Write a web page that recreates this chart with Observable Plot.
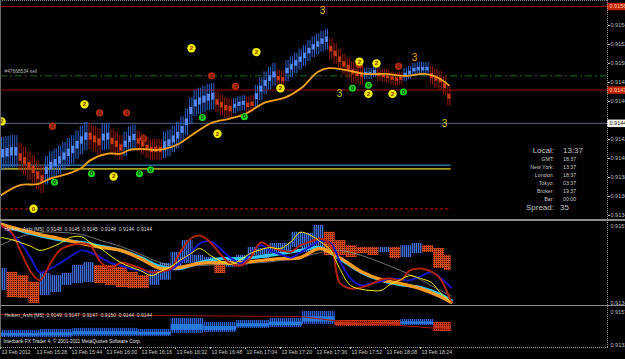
<!DOCTYPE html>
<html><head><meta charset="utf-8">
<script src="https://cdn.jsdelivr.net/npm/d3@7"></script>
<script src="https://cdn.jsdelivr.net/npm/@observablehq/plot@0.6"></script>
<style>
html,body{margin:0;padding:0;background:#000;}
#wrap{position:relative;width:625px;height:359px;background:#000;overflow:hidden;font-family:"Liberation Sans",Arial,sans-serif;}
#wrap svg{position:absolute;left:0;display:block;}
.t{position:absolute;color:#c4c4c4;white-space:nowrap;line-height:1;}
.ln{position:absolute;}
</style></head><body><div id="wrap"></div>
<script>
// ---------- time axis (minutes after 15:00) ----------
const xDomain = [12, 289.5];
const lastTime = 218;
const timeTicks = [12,28,44,60,76,92,108,124,140,156,172,188,204];
const timeLabels = ["13 Feb 2012","13 Feb 15:28","13 Feb 15:44","13 Feb 16:00","13 Feb 16:16","13 Feb 16:32","13 Feb 16:48","13 Feb 17:04","13 Feb 17:20","13 Feb 17:36","13 Feb 17:52","13 Feb 18:08","13 Feb 18:24"];

// ---------- main window: Heiken Ashi M1 (2-minute sampling) ----------
const haTime = [13,15,17,19,21,23,25,27,29,31,33,35,37,39,41,43,45,47,49,51,53,55,57,59,61,63,65,67,69,71,73,75,77,79,81,83,85,87,89,91,93,95,97,99,101,103,105,107,109,111,113,115,117,119,121,123,125,127,129,131,133,135,137,139,141,143,145,147,149,151,153,155,157,159,161,163,165,167,169,171,173,175,177,179,181,183,185,187,189,191,193,195,197,199,201,203,205,207,209,211,213,215,217];
const haHigh = [0.91427,0.91428,0.91429,0.91429,0.91421,0.91417,0.91412,0.91408,0.91402,0.91398,
0.91407,0.91412,0.91415,0.91418,0.91422,0.91426,0.91429,0.91434,0.91439,0.91443,
0.91442,0.91439,0.91436,0.91441,0.91442,0.91436,0.91433,0.91429,0.91433,0.91438,
0.91440,0.91434,0.91431,0.91427,0.91425,0.91425,0.91425,0.91433,0.91435,0.91439,
0.91443,0.91449,0.91457,0.91469,0.91477,0.91479,0.91481,0.91483,0.91484,0.91475,
0.91472,0.91469,0.91468,0.91468,0.91470,0.91471,0.91470,0.91471,0.91482,0.91490,
0.91496,0.91501,0.91505,0.91498,0.91497,0.91508,0.91512,0.91516,0.91520,0.91524,
0.91529,0.91533,0.91536,0.91539,0.91541,0.91531,0.91526,0.91520,0.91515,0.91511,
0.91507,0.91505,0.91504,0.91500,0.91500,0.91502,0.91500,0.91499,0.91498,0.91496,
0.91495,0.91496,0.91500,0.91502,0.91505,0.91506,0.91506,0.91506,0.91502,0.91499,
0.91497,0.91491,0.91480];
const haLow = [0.91393,0.91394,0.91395,0.91395,0.91391,0.91387,0.91382,0.91378,0.91372,0.91368,
0.91377,0.91382,0.91385,0.91388,0.91392,0.91396,0.91399,0.91404,0.91409,0.91413,
0.91414,0.91411,0.91408,0.91413,0.91414,0.91410,0.91407,0.91403,0.91407,0.91412,
0.91414,0.91412,0.91409,0.91405,0.91403,0.91403,0.91403,0.91405,0.91407,0.91411,
0.91415,0.91421,0.91429,0.91441,0.91449,0.91451,0.91453,0.91455,0.91456,0.91453,
0.91450,0.91447,0.91446,0.91452,0.91454,0.91455,0.91452,0.91453,0.91458,0.91466,
0.91472,0.91477,0.91481,0.91480,0.91479,0.91486,0.91490,0.91494,0.91498,0.91502,
0.91507,0.91511,0.91514,0.91517,0.91519,0.91509,0.91504,0.91498,0.91493,0.91489,
0.91485,0.91483,0.91482,0.91488,0.91488,0.91490,0.91486,0.91485,0.91484,0.91482,
0.91481,0.91482,0.91486,0.91488,0.91491,0.91492,0.91492,0.91492,0.91482,0.91479,
0.91477,0.91471,0.91460];
const haDir = "uuuuddddddUUUUUUUUUUdddUUdddUUUddddddUUUUUUUUUUUUddddUUUddUUUUUddUUUUUUUUUUddddddddUUUddddddUUUUUUddddd".toLowerCase();

// moving average (orange)
const maTime = [12,21,29,35,43,49,53,61,67,71,76,84,90,94,99,105,109,117,124,133,142,150,157,162,170,179,188,197,206,212,217];
const maPrice = [0.91366,0.91377,0.91378,0.91384,0.91389,0.91395,0.91403,0.91410,0.91410,0.91414,0.91415,0.91414,0.91417,0.91421,0.91429,0.91438,0.91443,0.91447,0.91452,0.91464,0.91469,0.91480,0.91496,0.91500,0.91498,0.91494,0.91494,0.91492,0.91494,0.91490,0.91482];

// horizontal levels
const levelPrices = [0.91565, 0.91492, 0.91477, 0.91442, 0.91398, 0.91394, 0.91352];
const orderLabel = "#47668534 sell";

// signal circles
const sigTime  = [108.5,119.4,57.3,69.6,35.8,77.4,194,176, 104.3,123.5,53.6,75.5,80.6,36.7,172.9,180.2,196.2, 99.3,129,50.4,111.2,63.7,140,176.1,183.9,180.2,191.2,12.5,27.1];
const sigPrice = [0.91492,0.91481,0.91453,0.91453,0.91439,0.91426,0.91502,0.91504, 0.91448,0.91449,0.91389,0.91389,0.91393,0.91380,0.91479,0.91482,0.91475, 0.91521,0.91517,0.91462,0.91431,0.91386,0.91479,0.91507,0.91505,0.91473,0.91473,0.91444,0.91352];
const sigType  = "rrrrrrrrgggggggggyyyyyyyyyyyy";
const sigDigit = "00000000000000000222222222220";

// "3" marks
const threeTime = [159.2, 201.3, 167, 215];
const threePrice = [0.91560, 0.91511, 0.91473, 0.91441];

const mainTicks = [0.91545,0.91525,0.91505,0.91485,0.91465,0.91425,0.91405,0.91385,0.91365,0.91345];

// info panel
const infoLabels = ["Local:","GMT:","New York:","London:","Tokyo:","Broker:","Bar:","Spread:"];
const infoValues = ["13:37","18:37","13:37","18:37","03:37","19:37","00:00","35"];

// ---------- sub window 1: Heiken Ashi M5 + averages ----------
const hm5Start = [10,15,20,25,30,35,40,45,50,55,60,65,70,75,80,85,90,95,100,105,110,115,120,125,130,135,140,145,150,155,160,165,170,175,180,185,190,195,200,205,210,215];
const hm5Hi = [0.91440,0.91429,0.91420,0.91401,0.91426,0.91420,0.91426,0.91448,0.91456,0.91448,
0.91448,0.91443,0.91429,0.91420,0.91434,0.91454,0.91484,0.91517,0.91476,0.91470,
0.91454,0.91462,0.91476,0.91498,0.91495,0.91509,0.91509,0.91540,0.91537,0.91559,
0.91540,0.91517,0.91503,0.91498,0.91498,0.91498,0.91498,0.91503,0.91509,0.91503,
0.91495,0.91476];
const hm5Lo = [0.91379,0.91359,0.91357,0.91343,0.91365,0.91373,0.91393,0.91398,0.91401,0.91398,
0.91393,0.91387,0.91384,0.91384,0.91393,0.91407,0.91434,0.91454,0.91456,0.91454,
0.91426,0.91443,0.91448,0.91476,0.91467,0.91481,0.91484,0.91498,0.91484,0.91495,
0.91476,0.91476,0.91470,0.91481,0.91476,0.91484,0.91467,0.91470,0.91481,0.91484,
0.91440,0.91434];
const hm5Dir = "udddUUUUUdddddUUUUUUdUUUUUUUUUdddddudUUddd".toLowerCase();

const sub1TimeA = [12,17,21,26,30,35,39,44,49,53,58,62,67,71,76,81,85,90,94,99,103,108,113,117,122,126,131,135,140,145,149,154,158,163,167,172,177,181,186,190,195,199,204,209,213,218];
const yellowLine = [0.91526,0.91520,0.91512,0.91501,0.91490,0.91498,0.91509,0.91526,0.91528,0.91512,
0.91495,0.91476,0.91456,0.91445,0.91434,0.91420,0.91431,0.91445,0.91462,0.91481,
0.91495,0.91476,0.91459,0.91451,0.91465,0.91481,0.91492,0.91498,0.91495,0.91515,
0.91540,0.91531,0.91515,0.91490,0.91440,0.91393,0.91382,0.91379,0.91379,0.91395,
0.91409,0.91420,0.91412,0.91401,0.91373,0.91346];
const redLine = [0.91559,0.91540,0.91490,0.91429,0.91407,0.91456,0.91490,0.91504,0.91509,0.91504,
0.91456,0.91440,0.91456,0.91451,0.91440,0.91429,0.91431,0.91440,0.91484,0.91523,
0.91531,0.91512,0.91476,0.91454,0.91448,0.91467,0.91512,0.91501,0.91490,0.91487,
0.91504,0.91515,0.91523,0.91504,0.91401,0.91384,0.91387,0.91395,0.91409,0.91412,
0.91407,0.91434,0.91440,0.91431,0.91412,0.91346];
const blueLine = [0.91559,0.91537,0.91512,0.91467,0.91429,0.91440,0.91454,0.91473,0.91490,0.91484,
0.91470,0.91456,0.91448,0.91440,0.91434,0.91429,0.91431,0.91437,0.91456,0.91484,
0.91509,0.91515,0.91492,0.91470,0.91454,0.91479,0.91504,0.91490,0.91479,0.91470,
0.91484,0.91501,0.91517,0.91509,0.91462,0.91412,0.91393,0.91398,0.91404,0.91412,
0.91409,0.91407,0.91418,0.91429,0.91415,0.91387];
const sub1TimeB = [12,21,30,39,49,58,67,76,85,94,103,113,122,131,140,149,158,167,177,186,195,204,213,218];
const orangeLine = [0.91562,0.91548,0.91534,0.91523,0.91509,0.91498,0.91490,0.91467,0.91440,0.91443,0.91454,0.91456,0.91456,0.91462,0.91467,0.91470,0.91495,0.91470,0.91431,0.91409,0.91398,0.91384,0.91362,0.91346];
const cyanLine = [0.91564,0.91545,0.91531,0.91520,0.91512,0.91501,0.91490,0.91470,0.91445,0.91440,0.91456,0.91467,0.91467,0.91473,0.91481,0.91490,0.91498,0.91467,0.91429,0.91407,0.91395,0.91387,0.91368,0.91351];
const greyLine = [0.91504,0.91528,0.91540,0.91540,0.91534,0.91517,0.91501,0.91479,0.91456,0.91445,0.91448,0.91451,0.91454,0.91456,0.91462,0.91470,0.91484,0.91490,0.91476,0.91456,0.91434,0.91409,0.91379,0.91365];
const sub1Header = "Heiken_Ashi [M5]  0.9148  0.9145  0.9145  0.9148  0.9144  0.9144";
const sub1Ticks = [0.9157, 0.9134];

// ---------- sub window 2: Heiken Ashi M15 ----------
const m15Start = [0,15,30,45,60,75,90,105,120,135,150,165,180,195,210];
const m15Hi = [0.91422,0.91422,0.91428,0.91435,0.91435,0.91428,0.91496,0.91472,0.91484,0.91496,0.91539,0.91484,0.91484,0.91490,0.91472];
const m15Lo = [0.91379,0.91379,0.91379,0.91385,0.91385,0.91385,0.91404,0.91410,0.91435,0.91441,0.91459,0.91447,0.91447,0.91453,0.91416];
const m15Dir = "uuuuuuuuuuuddud";
const sub2LineTime = [12,81,149,164,195,218];
const sub2LinePrice = [0.91521,0.91515,0.91508,0.91484,0.91453,0.91428];
const sub2Header = "Heiken_Ashi [M5]  0.9149  0.9147  0.9147  0.9150  0.9144  0.9144";
const sub2Ticks = [0.9157, 0.9133];
const copyright = "Interbank FX Trader 4, \u00a9 2001-2011 MetaQuotes Software Corp.";

// ---------- helpers ----------
const wrap = document.getElementById("wrap");
const font = "'Liberation Sans', Arial, sans-serif";
const baseStyle = {background: "transparent", color: "#bdbdbd", fontFamily: font, fontSize: "5.5px", overflow: "visible"};

function addPatterns(svg, id, blue, blueDark, red, redDark) {
  const defs = d3.select(svg).insert("defs", ":first-child");
  const pb = defs.append("pattern").attr("id", id + "b").attr("width", 2).attr("height", 2).attr("patternUnits", "userSpaceOnUse");
  pb.append("rect").attr("width", 2).attr("height", 2).attr("fill", blueDark);
  pb.append("rect").attr("width", 1).attr("height", 2).attr("fill", blue);
  const pr = defs.append("pattern").attr("id", id + "r").attr("width", 2).attr("height", 2).attr("patternUnits", "userSpaceOnUse");
  pr.append("rect").attr("width", 2).attr("height", 2).attr("fill", red);
  pr.append("rect").attr("x", 1).attr("y", 1).attr("width", 1).attr("height", 1).attr("fill", redDark);
}
function place(svg, top) { svg.style.top = top + "px"; wrap.appendChild(svg); return svg; }
function text(str, left, top, size, opts = {}) {
  const d = document.createElement("div");
  d.className = "t"; d.textContent = str;
  d.style.left = left + "px"; d.style.top = top + "px"; d.style.fontSize = size + "px";
  Object.assign(d.style, opts);
  wrap.appendChild(d); return d;
}
function line(left, top, w, h, css) {
  const d = document.createElement("div"); d.className = "ln";
  Object.assign(d.style, {left: left + "px", top: top + "px", width: w + "px", height: h + "px"}, css);
  wrap.appendChild(d);
}

// ---------- main plot ----------
const ha = haTime.map((t, i) => ({t, hi: haHigh[i], lo: haLow[i], up: haDir[i] === "u"}));
const haUp = ha.filter(d => d.up), haDn = ha.filter(d => !d.up);
const bodyLo = d => (d.hi + d.lo) / 2 - (d.hi - d.lo) * 0.13;
const bodyHi = d => (d.hi + d.lo) / 2 + (d.hi - d.lo) * 0.13;
const ma = maTime.map((t, i) => ({t, p: maPrice[i]}));
const sig = sigTime.map((t, i) => ({t, p: sigPrice[i], k: sigType[i], s: sigDigit[i]}));
const three = threeTime.map((t, i) => ({t, p: threePrice[i], c: ["#e8c21c", "#eda21a", "#b6cf2a", "#d8d22a"][i]}));

const levelStyle = [
  {stroke: "#a00000", x2: xDomain[1]},
  {stroke: "#1c6a1c", strokeDasharray: "7,3,2,3", x2: xDomain[1]},
  {stroke: "#a00000", x2: xDomain[1]},
  {stroke: "#56668a", x2: xDomain[1]},
  {stroke: "#38a6e6", x2: lastTime},
  {stroke: "#a3a31c", strokeWidth: 1.6, x2: lastTime},
  {stroke: "#d00000", strokeDasharray: "3,2", x2: lastTime}
];

const mainPlot = Plot.plot({
  width: 625, height: 220, marginLeft: 0, marginRight: 18, marginTop: 0, marginBottom: 0,
  x: {domain: xDomain, axis: null},
  y: {domain: [0.913397, 0.915713], axis: null},
  style: baseStyle,
  marks: [
    ...levelPrices.map((p, i) => Plot.ruleY([p], {x1: xDomain[0], x2: levelStyle[i].x2, stroke: levelStyle[i].stroke, strokeWidth: levelStyle[i].strokeWidth || 1, strokeDasharray: levelStyle[i].strokeDasharray})),
    Plot.text([levelPrices[1]], {x: xDomain[0], y: d => d, text: () => orderLabel, dx: 4, dy: -4, textAnchor: "start", fill: "#b8b8b8", fontSize: 4.8}),
    // wicks
    Plot.ruleX(haUp, {x: "t", y1: "lo", y2: "hi", stroke: "#3060c8", strokeWidth: 1, dx: -1.1}),
    Plot.ruleX(haUp, {x: "t", y1: "lo", y2: "hi", stroke: "#3060c8", strokeWidth: 1, dx: 1.1}),
    Plot.ruleX(haDn, {x: "t", y1: "lo", y2: "hi", stroke: "#8c1a08", strokeWidth: 1, dx: -1.1}),
    Plot.ruleX(haDn, {x: "t", y1: "lo", y2: "hi", stroke: "#8c1a08", strokeWidth: 1, dx: 1.1}),
    // bodies
    Plot.ruleX(haUp, {x: "t", y1: bodyLo, y2: bodyHi, stroke: "#5686ee", strokeWidth: 3.2}),
    Plot.ruleX(haDn, {x: "t", y1: bodyLo, y2: bodyHi, stroke: "#bf3a16", strokeWidth: 3.2}),
    // moving average
    Plot.line(ma, {x: "t", y: "p", stroke: "#f5a21b", strokeWidth: 1.8, curve: "catmull-rom"}),
    // signals
    Plot.dot(sig.filter(d => d.k === "r"), {x: "t", y: "p", r: 3.6, fill: "#b02c0e"}),
    Plot.text(sig.filter(d => d.k === "r"), {x: "t", y: "p", text: "s", fill: "#5e1204", fontSize: 5.5, fontWeight: "bold"}),
    Plot.dot(sig.filter(d => d.k === "g"), {x: "t", y: "p", r: 3.5, fill: "#1ed21e"}),
    Plot.text(sig.filter(d => d.k === "g"), {x: "t", y: "p", text: "s", fill: "#0a3a0a", fontSize: 5.5, fontWeight: "bold"}),
    Plot.dot(sig.filter(d => d.k === "y"), {x: "t", y: "p", r: 4.2, fill: "#f2f000"}),
    Plot.text(sig.filter(d => d.k === "y"), {x: "t", y: "p", text: "s", fill: "#7a2a00", fontSize: 6, fontWeight: "bold"}),
    Plot.text(three, {x: "t", y: "p", text: () => "3", fill: "c", fontSize: 10}),
    // right axis
    Plot.axisY({anchor: "right", ticks: mainTicks, tickFormat: d => d.toFixed(5), tickSize: 2, tickPadding: 1, fontSize: 5.5}),
    Plot.ruleY([levelPrices[0], levelPrices[2]], {x1: xDomain[1], x2: xDomain[1] + 9, stroke: "#c22400", strokeWidth: 7.5}),
    Plot.ruleY([levelPrices[3]], {x1: xDomain[1], x2: xDomain[1] + 9, stroke: "#ffffff", strokeWidth: 7.5}),
    Plot.text([levelPrices[0], levelPrices[2]], {x: xDomain[1], y: d => d, text: d => d.toFixed(5), dx: 2, textAnchor: "start", fill: "#ffc8b0", fontSize: 5.5}),
    Plot.text([levelPrices[3]], {x: xDomain[1], y: d => d, text: d => d.toFixed(5), dx: 2, textAnchor: "start", fill: "#000000", fontSize: 5.5})
  ]
});
place(mainPlot, 0);

// ---------- sub 1 ----------
const hm5 = hm5Start.map((t, i) => ({t, t2: Math.min(t + 5, lastTime), hi: hm5Hi[i], lo: hm5Lo[i], up: hm5Dir[i] === "u"}));
const s1 = (times, vals) => times.map((t, i) => ({t, p: vals[i]}));
const sub1 = Plot.plot({
  width: 625, height: 85, marginLeft: 0, marginRight: 18, marginTop: 0, marginBottom: 0,
  x: {domain: xDomain, axis: null},
  y: {domain: [0.913372, 0.915728], axis: null},
  style: baseStyle,
  marks: [
    Plot.rect(hm5.filter(d => d.up), {x1: "t", x2: "t2", y1: "lo", y2: "hi", fill: "url(#s1b)"}),
    Plot.rect(hm5.filter(d => !d.up), {x1: "t", x2: "t2", y1: "lo", y2: "hi", fill: "url(#s1r)"}),
    Plot.line(s1(sub1TimeB, greyLine), {x: "t", y: "p", stroke: "#8e8e8e", strokeWidth: 0.8, curve: "catmull-rom"}),
    Plot.line(s1(sub1TimeB, cyanLine), {x: "t", y: "p", stroke: "#34c6f2", strokeWidth: 3.2, curve: "catmull-rom"}),
    Plot.line(s1(sub1TimeB, orangeLine), {x: "t", y: "p", stroke: "#ff9a1e", strokeWidth: 3.2, curve: "catmull-rom"}),
    Plot.line(s1(sub1TimeA, blueLine), {x: "t", y: "p", stroke: "#1414c8", strokeWidth: 2, curve: "catmull-rom"}),
    Plot.line(s1(sub1TimeA, redLine), {x: "t", y: "p", stroke: "#b02204", strokeWidth: 2, curve: "catmull-rom"}),
    Plot.line(s1(sub1TimeA, yellowLine), {x: "t", y: "p", stroke: "#f4f000", strokeWidth: 1, curve: "catmull-rom"}),
    Plot.text([sub1Header], {frameAnchor: "top-left", text: d => d, dx: 4, dy: 7, textAnchor: "start", fill: "#d8d8d8", fontSize: 5}),
    Plot.text(sub1Ticks, {frameAnchor: "right", y: d => d, text: d => d.toFixed(4), dx: 3, textAnchor: "start", fontSize: 5.5})
  ]
});
addPatterns(sub1, "s1", "#4070d8", "#15224f", "#cf4a1a", "#4a0c00");
place(sub1, 220);

// ---------- sub 2 ----------
const m15 = m15Start.map((t, i) => ({t, t2: Math.min(t + 15, lastTime), hi: m15Hi[i], lo: m15Lo[i], up: m15Dir[i] === "u"}));
const m15Body1 = d => d.lo + (d.hi - d.lo) * 0.2;
const m15Body2 = d => d.lo + (d.hi - d.lo) * 0.6;
const sub2 = Plot.plot({
  width: 625, height: 53, marginLeft: 0, marginRight: 18, marginTop: 0, marginBottom: 12,
  x: {domain: xDomain, axis: null},
  y: {domain: [0.913177, 0.915700], axis: null},
  style: baseStyle,
  marks: [
    Plot.rect(m15.filter(d => d.up), {x1: "t", x2: "t2", y1: "lo", y2: "hi", fill: "url(#s2b)"}),
    Plot.rect(m15.filter(d => !d.up), {x1: "t", x2: "t2", y1: "lo", y2: "hi", fill: "url(#s2r)"}),
    Plot.rect(m15.filter(d => d.up), {x1: "t", x2: "t2", y1: m15Body1, y2: m15Body2, fill: "#2a86ee", fillOpacity: 0.8}),
    Plot.rect(m15.filter(d => !d.up), {x1: "t", x2: "t2", y1: m15Body1, y2: m15Body2, fill: "#c8361a", fillOpacity: 0.8}),
    Plot.line(sub2LineTime.map((t, i) => ({t, p: sub2LinePrice[i]})), {x: "t", y: "p", stroke: "#a01808", strokeWidth: 1}),
    Plot.text([sub2Header], {frameAnchor: "top-left", text: d => d, dx: 4, dy: 7, textAnchor: "start", fill: "#d8d8d8", fontSize: 5}),
    Plot.text([copyright], {frameAnchor: "bottom-left", text: d => d, dx: 3, dy: -5, textAnchor: "start", fill: "#e0e0e0", fontSize: 4.8}),
    Plot.text(sub2Ticks, {frameAnchor: "right", y: d => d, text: d => d.toFixed(4), dx: 3, textAnchor: "start", fontSize: 5.5}),
    Plot.axisX({ticks: timeTicks, tickFormat: () => "", tickSize: 2}),
    Plot.text(timeTicks, {x: d => d, frameAnchor: "bottom", text: (d, i) => timeLabels[i], dx: 1, dy: 6, textAnchor: "start", fill: "#c8c8c8", fontSize: 5.2})
  ]
});
addPatterns(sub2, "s2", "#2c5ed0", "#10224e", "#c83a16", "#3a0800");
place(sub2, 306);

// sub-window scale labels sit just inside the panel edges
d3.select(sub1).selectAll("text").filter(function(){ return this.textContent === "0.9157"; }).attr("dy", "0.9em");
d3.select(sub1).selectAll("text").filter(function(){ return this.textContent === "0.9134"; }).attr("dy", "-0.2em");
d3.select(sub2).selectAll("text").filter(function(){ return this.textContent === "0.9157"; }).attr("dy", "1.1em");
d3.select(sub2).selectAll("text").filter(function(){ return this.textContent === "0.9133"; }).attr("dy", "0em");

// frame lines
line(0, 0, 607, 1, {borderTop: "1px dotted #8a8a8a"});
line(0, 0, 1, 347, {background: "#6a6a6a"});
line(607, 0, 1, 347, {borderLeft: "1px dotted #9a9a9a"});
line(0, 347, 608, 1, {borderTop: "1px dotted #9a9a9a"});
line(0, 219, 625, 2, {background: "#8c8c8c"});
line(0, 304.5, 625, 1.5, {background: "#8c8c8c"});

// info panel
const infoTop = [147, 157, 165, 173, 181, 189, 197, 204];
infoLabels.forEach((lab, i) => {
  const big = i === 0 || i === 7;
  text(lab, 0, infoTop[i], big ? 8 : 5.3, {width: "554px", textAlign: "right"});
  text(infoValues[i], i === 7 ? 560 : 563, infoTop[i], big ? 8 : 5.3);
});
</script></body></html>
